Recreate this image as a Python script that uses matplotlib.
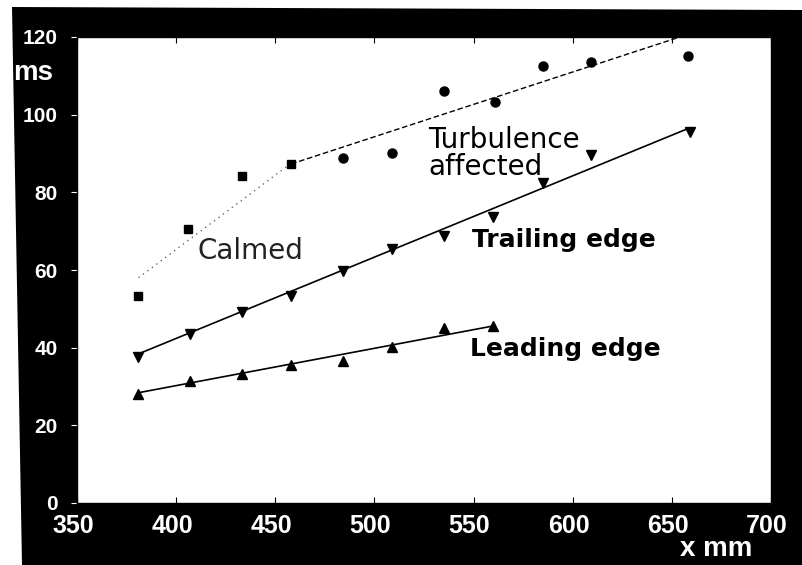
"""
Boundary layer transition timing along the plate
Calmed region, turbulence affected region, trailing and leading edges
"""

import matplotlib
matplotlib.use('Agg')
import matplotlib.pyplot as plt
from matplotlib.patches import Polygon
from matplotlib.transforms import ScaledTranslation


# Calmed region (squares)
calmed_x = [381, 406, 433, 458]
calmed_y = [53.3, 70.6, 84.2, 87.3]

# Turbulence affected region (circles)
turb_x = [484, 509, 535, 561, 585, 609, 658]
turb_y = [88.8, 90.1, 106.1, 103.3, 112.5, 113.6, 115.1]

# Trailing edge (down triangles)
trail_x = [381, 407, 433, 458, 484, 509, 535, 560, 585, 609, 659]
trail_y = [37.6, 43.5, 49.2, 53.3, 59.7, 65.4, 68.8, 73.7, 82.4, 89.6, 95.5]

# Leading edge (up triangles)
lead_x = [381, 407, 433, 458, 484, 509, 535, 560]
lead_y = [28.1, 31.4, 33.2, 35.5, 36.6, 40.2, 45.1, 45.6]

# Fitted lines (end points)
calmed_fit_x = [381, 458]
calmed_fit_y = [58.0, 87.5]
turb_fit_x = [458, 660]
turb_fit_y = [87.3, 121.0]
trail_fit_x = [381, 659]
trail_fit_y = [38.4, 96.6]
lead_fit_x = [381, 560]
lead_fit_y = [28.4, 45.6]

x_ticks = [350, 400, 450, 500, 550, 600, 650, 700]
y_ticks = [0, 20, 40, 60, 80, 100, 120]

W, H = 802, 565


def px(x, y):
    """Figure pixel (from top-left) to figure fraction"""
    return x / W, 1 - y / H


fig = plt.figure(figsize=(W / 100, H / 100), dpi=100)
fig.patch.set_facecolor('white')

# Black scanned frame around the plot, kept behind the axes
frame = Polygon([px(12, 7), px(802, 10), px(802, 565), px(22, 565)],
                closed=True, facecolor='black', edgecolor='none',
                transform=fig.transFigure, zorder=-10)
fig.patches.append(frame)

left, top = px(77, 37)
right, bottom = px(771, 503)
ax = fig.add_axes([left, bottom, right - left, top - bottom])
ax.set_facecolor('white')
ax.set_zorder(1)

# Fit lines
ax.plot(calmed_fit_x, calmed_fit_y, color='#666666', lw=1.0,
        linestyle=(0, (1, 3)))
ax.plot(turb_fit_x, turb_fit_y, color='black', lw=1.0,
        linestyle=(0, (4, 2)))
ax.plot(trail_fit_x, trail_fit_y, color='black', lw=1.2)
ax.plot(lead_fit_x, lead_fit_y, color='black', lw=1.2)

# Data points
ax.plot(calmed_x, calmed_y, 's', color='black', ms=6, ls='none')
ax.plot(turb_x, turb_y, 'o', color='black', ms=6.5, ls='none')
ax.plot(trail_x, trail_y, 'v', color='black', ms=6.5, ls='none')
ax.plot(lead_x, lead_y, '^', color='black', ms=6.5, ls='none')

ax.set_xlim(350, 700)
ax.set_ylim(0, 120)
ax.set_xticks(x_ticks)
ax.set_yticks(y_ticks)

for side in ['left', 'right', 'top', 'bottom']:
    ax.spines[side].set_color('black')
    ax.spines[side].set_linewidth(1.0)

ax.tick_params(axis='x', direction='in', length=4, color='black',
               top=True, labelcolor='white', pad=8)
ax.tick_params(axis='y', direction='out', length=4, color='white',
               labelcolor='white', pad=10)
ax.tick_params(axis='y', which='major', right=True)
for t in ax.yaxis.get_major_ticks():
    t.tick2line.set_color('black')
    t.tick2line.set_marker(0)

# x labels sit a little left of their ticks in the scan
shift = ScaledTranslation(-4 / 100, 0, fig.dpi_scale_trans)
for lab in ax.get_xticklabels():
    lab.set_fontfamily('Liberation Sans')
    lab.set_fontweight('bold')
    lab.set_fontsize(18)
    lab.set_transform(lab.get_transform() + shift)
for lab in ax.get_yticklabels():
    lab.set_fontfamily('Liberation Sans')
    lab.set_fontweight('bold')
    lab.set_fontsize(15)

# Axis titles on the black frame
fig.text(*px(13, 80), 'ms', color='white', fontsize=20,
         fontweight='bold', family='Liberation Sans', va='baseline')
fig.text(*px(680, 556), 'x mm', color='white', fontsize=20,
         fontweight='bold', family='Liberation Sans', va='baseline')

# Curve annotations
ax.text(411, 62.8, 'Calmed', fontsize=20, family='DejaVu Sans',
        color='#222222', va='baseline')
ax.text(527, 84.5, 'Turbulence\naffected', fontsize=20,
        family='DejaVu Sans', va='baseline', linespacing=0.95)
ax.text(549, 65.9, 'Trailing edge', fontsize=18, fontweight='bold',
        family='DejaVu Sans', va='baseline')
ax.text(548, 37.9, 'Leading edge', fontsize=18, fontweight='bold',
        family='DejaVu Sans', va='baseline')

fig.savefig('out.png', dpi=100, facecolor=fig.get_facecolor())
plt.close(fig)
